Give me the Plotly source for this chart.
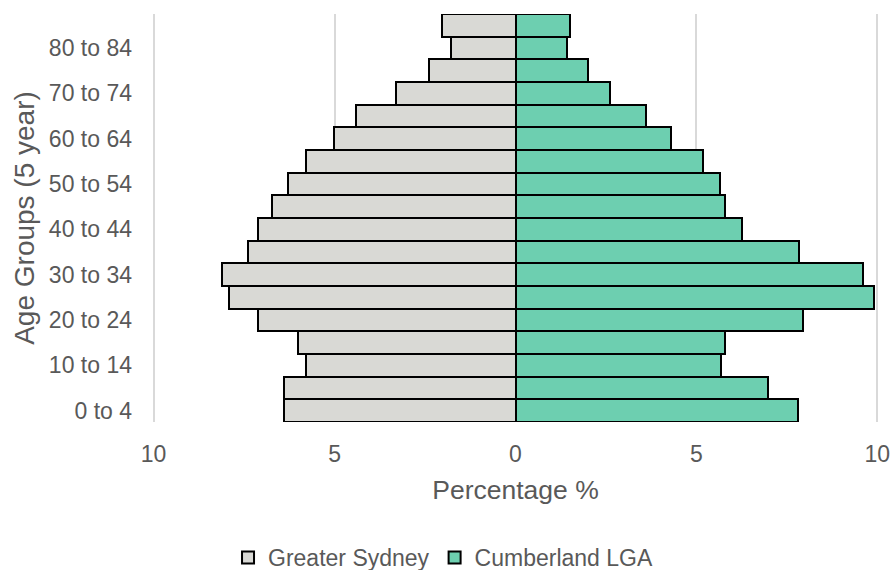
import plotly.graph_objects as go

# Age groups, youngest first
age_groups = ["0 to 4", "5 to 9", "10 to 14", "15 to 19", "20 to 24", "25 to 29",
              "30 to 34", "35 to 39", "40 to 44", "45 to 49", "50 to 54", "55 to 59",
              "60 to 64", "65 to 69", "70 to 74", "75 to 79", "80 to 84", "85 and over"]

# Share of population (%) in each age group
greater_sydney = [6.40, 6.40, 5.80, 6.00, 7.11, 7.92, 8.11, 7.40, 7.11, 6.72,
                  6.29, 5.80, 5.02, 4.42, 3.31, 2.39, 1.79, 2.02]
cumberland = [7.81, 6.99, 5.67, 5.78, 7.95, 9.90, 9.61, 7.84, 6.25, 5.79,
              5.64, 5.18, 4.31, 3.60, 2.60, 2.00, 1.43, 1.50]

x_ticks = [-10, -5, 0, 5, 10]
x_tick_text = ["10", "5", "0", "5", "10"]

FONT = "Liberation Sans, Arial, sans-serif"
GREY_TEXT = "#595959"

fig = go.Figure()
fig.add_trace(go.Bar(
    y=age_groups, x=[-v for v in greater_sydney], orientation="h",
    name="Greater Sydney",
    marker=dict(color="#d9d9d5", line=dict(color="#000000", width=2)),
))
fig.add_trace(go.Bar(
    y=age_groups, x=cumberland, orientation="h",
    name="Cumberland LGA",
    marker=dict(color="#6dcfb0", line=dict(color="#000000", width=2)),
))

fig.update_layout(
    width=895, height=570,
    margin=dict(l=150, r=14, t=14, b=148),
    barmode="relative", bargap=0,
    plot_bgcolor="white", paper_bgcolor="white",
    font=dict(family=FONT, size=23, color=GREY_TEXT),
    legend=dict(orientation="h", xref="container", yref="container",
                x=0.495, xanchor="center", y=0.022, yanchor="middle",
                font=dict(family=FONT, size=23, color=GREY_TEXT), itemwidth=30,
                traceorder="normal"),
    xaxis=dict(range=[-10.1, 10.1], tickvals=x_ticks, ticktext=x_tick_text,
               automargin=False,
               showgrid=True, gridcolor="#d9d9d9", gridwidth=2,
               zeroline=True, zerolinecolor="#d9d9d9", zerolinewidth=2,
               showline=False, ticks="", ticklabelstandoff=16,
               title=dict(text="Percentage %", standoff=14,
                          font=dict(family=FONT, size=26.5, color=GREY_TEXT))),
    yaxis=dict(categoryorder="array", categoryarray=age_groups,
               tickvals=age_groups[0::2], ticktext=age_groups[0::2],
               automargin=False,
               showgrid=False, zeroline=False, showline=False, ticks="",
               ticklabelstandoff=17,
               title=dict(text="Age Groups (5 year)", standoff=6,
                          font=dict(family=FONT, size=28, color=GREY_TEXT))),
)

fig.write_html("out.html")
